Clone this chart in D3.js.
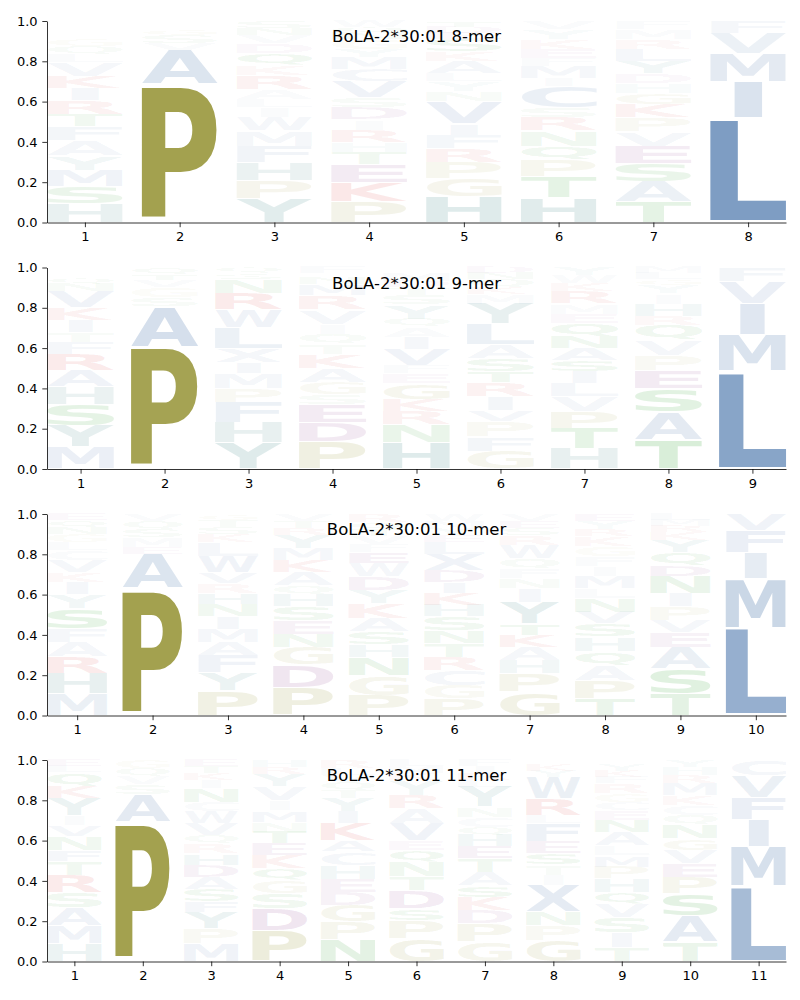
<!DOCTYPE html>
<html>
<head>
<meta charset="utf-8">
<script src="https://cdn.jsdelivr.net/npm/d3@7"></script>
<style>
  body { margin: 0; background: #fff; }
  .axis path, .axis line { stroke: #000; stroke-width: 0.8px; }
  .title { font-family: "DejaVu Sans", sans-serif; font-size: 16.5px; fill: #000; }
</style>
</head>
<body>
<script>
'use strict'

// letter stacks, bottom -> top, [residue, frequency]
const logo8 = [
  [["H",.096],["S",.085],["M",.08],["Y",.07],["A",.075],["F",.07],["T",.06],["R",.07],["I",.06],["K",.06],["V",.07],["L",.04],["Q",.04],["G",.035],["E",.02],["D",.015],["W",.014]],
  [["P",.685],["A",.17],["V",.035],["S",.04],["G",.03],["T",.02],["Q",.02]],
  [["Y",.12],["P",.09],["H",.09],["F",.08],["M",.075],["W",.065],["I",.05],["L",.04],["A",.05],["R",.07],["K",.05],["Q",.06],["D",.05],["V",.04],["N",.035],["S",.035]],
  [["P",.105],["K",.095],["E",.09],["T",.06],["H",.05],["R",.06],["I",.05],["D",.06],["S",.05],["V",.08],["C",.06],["M",.06],["Y",.04],["G",.05],["N",.03],["Q",.03],["W",.03]],
  [["H",.13],["G",.09],["P",.08],["R",.07],["F",.065],["I",.055],["V",.11],["N",.05],["Y",.05],["L",.04],["A",.06],["K",.05],["S",.06],["E",.03],["D",.03],["T",.03]],
  [["H",.125],["T",.105],["P",.08],["Q",.07],["N",.075],["R",.065],["S",.05],["C",.105],["I",.04],["M",.06],["F",.04],["E",.045],["K",.05],["Y",.05],["V",.04]],
  [["T",.105],["A",.1],["S",.09],["E",.085],["V",.07],["P",.07],["K",.065],["G",.055],["H",.05],["D",.05],["Y",.06],["L",.06],["R",.05],["M",.05],["F",.04]],
  [["L",.52],["I",.18],["M",.14],["V",.1],["F",.06]]
];

const logo9 = [
  [["M",.11],["Y",.105],["S",.105],["H",.09],["A",.08],["R",.08],["F",.06],["T",.05],["I",.06],["K",.06],["V",.08],["N",.04],["Q",.03],["G",.025],["D",.025]],
  [["P",.605],["A",.2],["S",.045],["G",.05],["V",.035],["T",.03],["Q",.035]],
  [["Y",.13],["H",.1],["F",.1],["P",.07],["M",.075],["I",.055],["X",.07],["L",.1],["W",.09],["R",.08],["N",.07],["S",.03],["Q",.03]],
  [["P",.135],["D",.095],["E",.09],["S",.05],["G",.06],["A",.07],["K",.07],["T",.05],["Q",.05],["I",.05],["V",.07],["R",.07],["M",.055],["N",.03],["W",.025],["F",.03]],
  [["H",.13],["N",.09],["R",.065],["K",.06],["G",.08],["E",.05],["F",.04],["V",.08],["I",.06],["A",.05],["Q",.04],["Y",.07],["S",.05],["T",.035],["D",.03],["M",.04]],
  [["G",.09],["F",.07],["P",.075],["V",.055],["I",.07],["R",.07],["T",.055],["S",.065],["A",.07],["L",.1],["Y",.1],["M",.05],["K",.03],["Q",.04],["N",.03],["D",.03]],
  [["H",.1],["T",.1],["P",.085],["V",.075],["L",.065],["I",.06],["S",.055],["A",.06],["N",.06],["Q",.065],["E",.045],["M",.05],["R",.06],["K",.04],["W",.04],["Y",.04]],
  [["T",.145],["A",.14],["S",.115],["E",.09],["P",.075],["V",.075],["Q",.075],["R",.045],["H",.06],["I",.05],["Y",.04],["G",.03],["L",.03],["M",.03]],
  [["L",.485],["M",.18],["I",.155],["V",.11],["F",.07]]
];

const logo10 = [
  [["M",.11],["H",.1],["R",.08],["A",.075],["F",.065],["S",.1],["Y",.07],["I",.06],["K",.05],["V",.06],["C",.05],["L",.04],["G",.04],["N",.035],["Q",.035],["E",.03]],
  [["P",.63],["A",.17],["E",.035],["M",.05],["S",.04],["Q",.04],["V",.035]],
  [["P",.125],["Y",.09],["F",.085],["A",.065],["M",.065],["I",.06],["N",.06],["H",.055],["R",.05],["V",.055],["W",.08],["L",.07],["K",.04],["S",.035],["T",.035],["G",.03]],
  [["P",.14],["D",.11],["G",.09],["N",.065],["E",.065],["S",.07],["H",.06],["Q",.045],["A",.065],["K",.06],["M",.06],["Y",.065],["R",.035],["T",.035],["V",.035]],
  [["P",.1],["G",.1],["N",.09],["H",.06],["S",.065],["A",.065],["K",.075],["Y",.065],["D",.07],["W",.065],["E",.055],["F",.04],["V",.04],["T",.035],["Q",.035],["R",.04]],
  [["P",.083],["G",.067],["C",.074],["R",.066],["T",.067],["N",.063],["S",.07],["H",.057],["K",.058],["I",.055],["D",.06],["X",.08],["L",.06],["E",.035],["Y",.035],["M",.035],["W",.035]],
  [["G",.116],["P",.091],["H",.067],["A",.066],["K",.06],["T",.056],["Y",.108],["I",.066],["N",.05],["F",.05],["Q",.05],["W",.066],["R",.05],["S",.035],["E",.035],["V",.034]],
  [["T",.083],["P",.091],["A",.076],["Q",.07],["H",.07],["S",.066],["V",.058],["N",.066],["L",.05],["M",.06],["I",.05],["F",.05],["G",.05],["K",.05],["R",.035],["Y",.04],["E",.035]],
  [["T",.108],["S",.124],["A",.108],["E",.075],["V",.058],["P",.067],["I",.065],["N",.085],["D",.056],["Q",.064],["Y",.06],["K",.04],["R",.03],["M",.03],["L",.03]],
  [["L",.435],["M",.245],["I",.13],["F",.11],["V",.08]]
];

const logo11 = [
  [["H",.09],["M",.09],["A",.09],["S",.075],["R",.085],["T",.065],["F",.055],["N",.07],["V",.055],["I",.05],["Y",.085],["K",.06],["Q",.07],["L",.03],["E",.03]],
  [["P",.69],["A",.14],["S",.05],["V",.04],["Q",.04],["G",.04]],
  [["M",.088],["P",.075],["Y",.082],["F",.055],["S",.06],["A",.06],["D",.06],["H",.055],["R",.05],["Q",.042],["V",.058],["W",.058],["C",.047],["N",.07],["I",.04],["K",.035],["T",.035],["E",.03]],
  [["P",.154],["D",.108],["S",.075],["G",.066],["Q",.057],["K",.067],["E",.058],["T",.058],["N",.05],["M",.057],["I",.05],["V",.067],["Y",.063],["R",.035],["H",.035]],
  [["N",.108],["P",.088],["G",.084],["D",.065],["E",.065],["H",.068],["C",.066],["A",.056],["K",.085],["I",.058],["Y",.067],["T",.04],["Q",.04],["V",.035],["L",.035],["R",.04]],
  [["G",.113],["P",.091],["S",.058],["D",.091],["T",.067],["N",.074],["Q",.058],["E",.048],["V",.085],["A",.075],["R",.066],["Y",.074],["K",.035],["M",.035],["L",.03]],
  [["G",.096],["P",.091],["D",.067],["K",.066],["S",.058],["A",.066],["T",.066],["E",.06],["H",.057],["Q",.041],["C",.05],["N",.05],["Y",.099],["L",.035],["R",.035],["I",.033],["F",.03]],
  [["G",.104],["P",.076],["N",.065],["X",.133],["I",.052],["T",.05],["S",.056],["E",.058],["F",.091],["L",.041],["R",.084],["W",.107],["Y",.03],["K",.03],["M",.023]],
  [["T",.07],["I",.076],["S",.074],["V",.067],["Q",.058],["H",.065],["P",.06],["M",.057],["L",.05],["A",.066],["N",.057],["E",.05],["C",.04],["G",.044],["R",.05],["F",.03],["K",.03],["Y",.03],["W",.026]],
  [["T",.096],["A",.133],["S",.108],["P",.083],["E",.066],["V",.066],["G",.058],["N",.067],["Q",.049],["C",.05],["K",.05],["M",.058],["R",.04],["H",.04],["Y",.036]],
  [["L",.375],["M",.195],["I",.135],["F",.11],["V",.11],["C",.075]]
];

const titles = ["BoLA-2*30:01 8-mer", "BoLA-2*30:01 9-mer", "BoLA-2*30:01 10-mer", "BoLA-2*30:01 11-mer"];
const logos = [logo8, logo9, logo10, logo11];
const yTicks = [0, 0.2, 0.4, 0.6, 0.8, 1.0];

const colorOf = {};
"AVLIMFWCX".split("").forEach(c => colorOf[c] = "#6187b6");
"PG".split("").forEach(c => colorOf[c] = "#a3a14f");
"HY".split("").forEach(c => colorOf[c] = "#3a8080");
"KR".split("").forEach(c => colorOf[c] = "#d83030");
"DE".split("").forEach(c => colorOf[c] = "#8b3a8b");
"STNQ".split("").forEach(c => colorOf[c] = "#2e9e2e");

// fainter for rare residues
function alphaOf(v) {
    return Math.min(1, 1.77 * Math.pow(v, 1.18));
}

// glyph ink boxes, measured once on a canvas
const FONT = "bold 100px 'DejaVu Sans'";
const ctx = document.createElement("canvas").getContext("2d");
ctx.font = FONT;
const inkCache = {};
function ink(ch) {
    if (!inkCache[ch]) {
        let m = ctx.measureText(ch);
        inkCache[ch] = {
            x0: -m.actualBoundingBoxLeft, x1: m.actualBoundingBoxRight,
            y0: -m.actualBoundingBoxAscent, y1: m.actualBoundingBoxDescent
        };
    }
    return inkCache[ch];
}
const inkE = ink("E"), wE = inkE.x1 - inkE.x0;

const W = 800, H = 1000;
const left = 47, right = 786, panelH = 201.5;
const panelTops = [21, 267.5, 514, 760];
const vpad = 0.05, colWidth = 0.8;

let svg = d3.select("body").append("svg")
    .attr("width", W)
    .attr("height", H);

logos.forEach(function(data, p) {
    let n = data.length,
        top = panelTops[p];

    let x = d3.scaleLinear().domain([0.6, n + 0.4]).range([left, right]),
        y = d3.scaleLinear().domain([0, 1]).range([top + panelH, top]);

    let g = svg.append("g");

    data.forEach(function(col, i) {
        let pos = i + 1, acc = 0,
            cx = x(pos),
            bw = x(pos + colWidth / 2) - x(pos - colWidth / 2);
        col.forEach(function(d) {
            let ch = d[0], v = d[1],
                lo = acc + v * vpad / 2,
                hi = acc + v - v * vpad / 2;
            acc += v;
            let b = ink(ch),
                gw = b.x1 - b.x0, gh = b.y1 - b.y0,
                yt = y(hi), yb = y(lo),
                sx = bw / Math.max(gw, wE),
                sy = (yb - yt) / gh;
            g.append("text")
                .attr("transform", "translate(" + cx + "," + yt + ") scale(" + sx + "," + sy + ") translate(" + (-(b.x0 + b.x1) / 2) + "," + (-b.y0) + ")")
                .style("font", FONT)
                .attr("fill", colorOf[ch])
                .attr("fill-opacity", alphaOf(v))
                .text(ch);
        });
    });

    let xAxis = svg.append("g")
        .attr("class", "axis")
        .attr("transform", "translate(0," + y(0) + ")")
        .call(d3.axisBottom(x).tickValues(d3.range(1, n + 1)).tickFormat(d3.format("d"))
            .tickSizeInner(4.7).tickSizeOuter(0).tickPadding(4.7));

    let yAxis = svg.append("g")
        .attr("class", "axis")
        .attr("transform", "translate(" + left + ",0)")
        .call(d3.axisLeft(y).tickValues(yTicks).tickFormat(d3.format(".1f"))
            .tickSizeInner(4.7).tickSizeOuter(0).tickPadding(4.7));

    [xAxis, yAxis].forEach(function(a) {
        a.attr("font-family", "DejaVu Sans")
            .attr("font-size", 13)
            .selectAll("text")
            .attr("fill", "#000");
    });

    svg.append("text")
        .attr("class", "title")
        .attr("x", (left + right) / 2)
        .attr("y", top + 21)
        .attr("text-anchor", "middle")
        .text(titles[p]);
});
</script>
</body>
</html>
